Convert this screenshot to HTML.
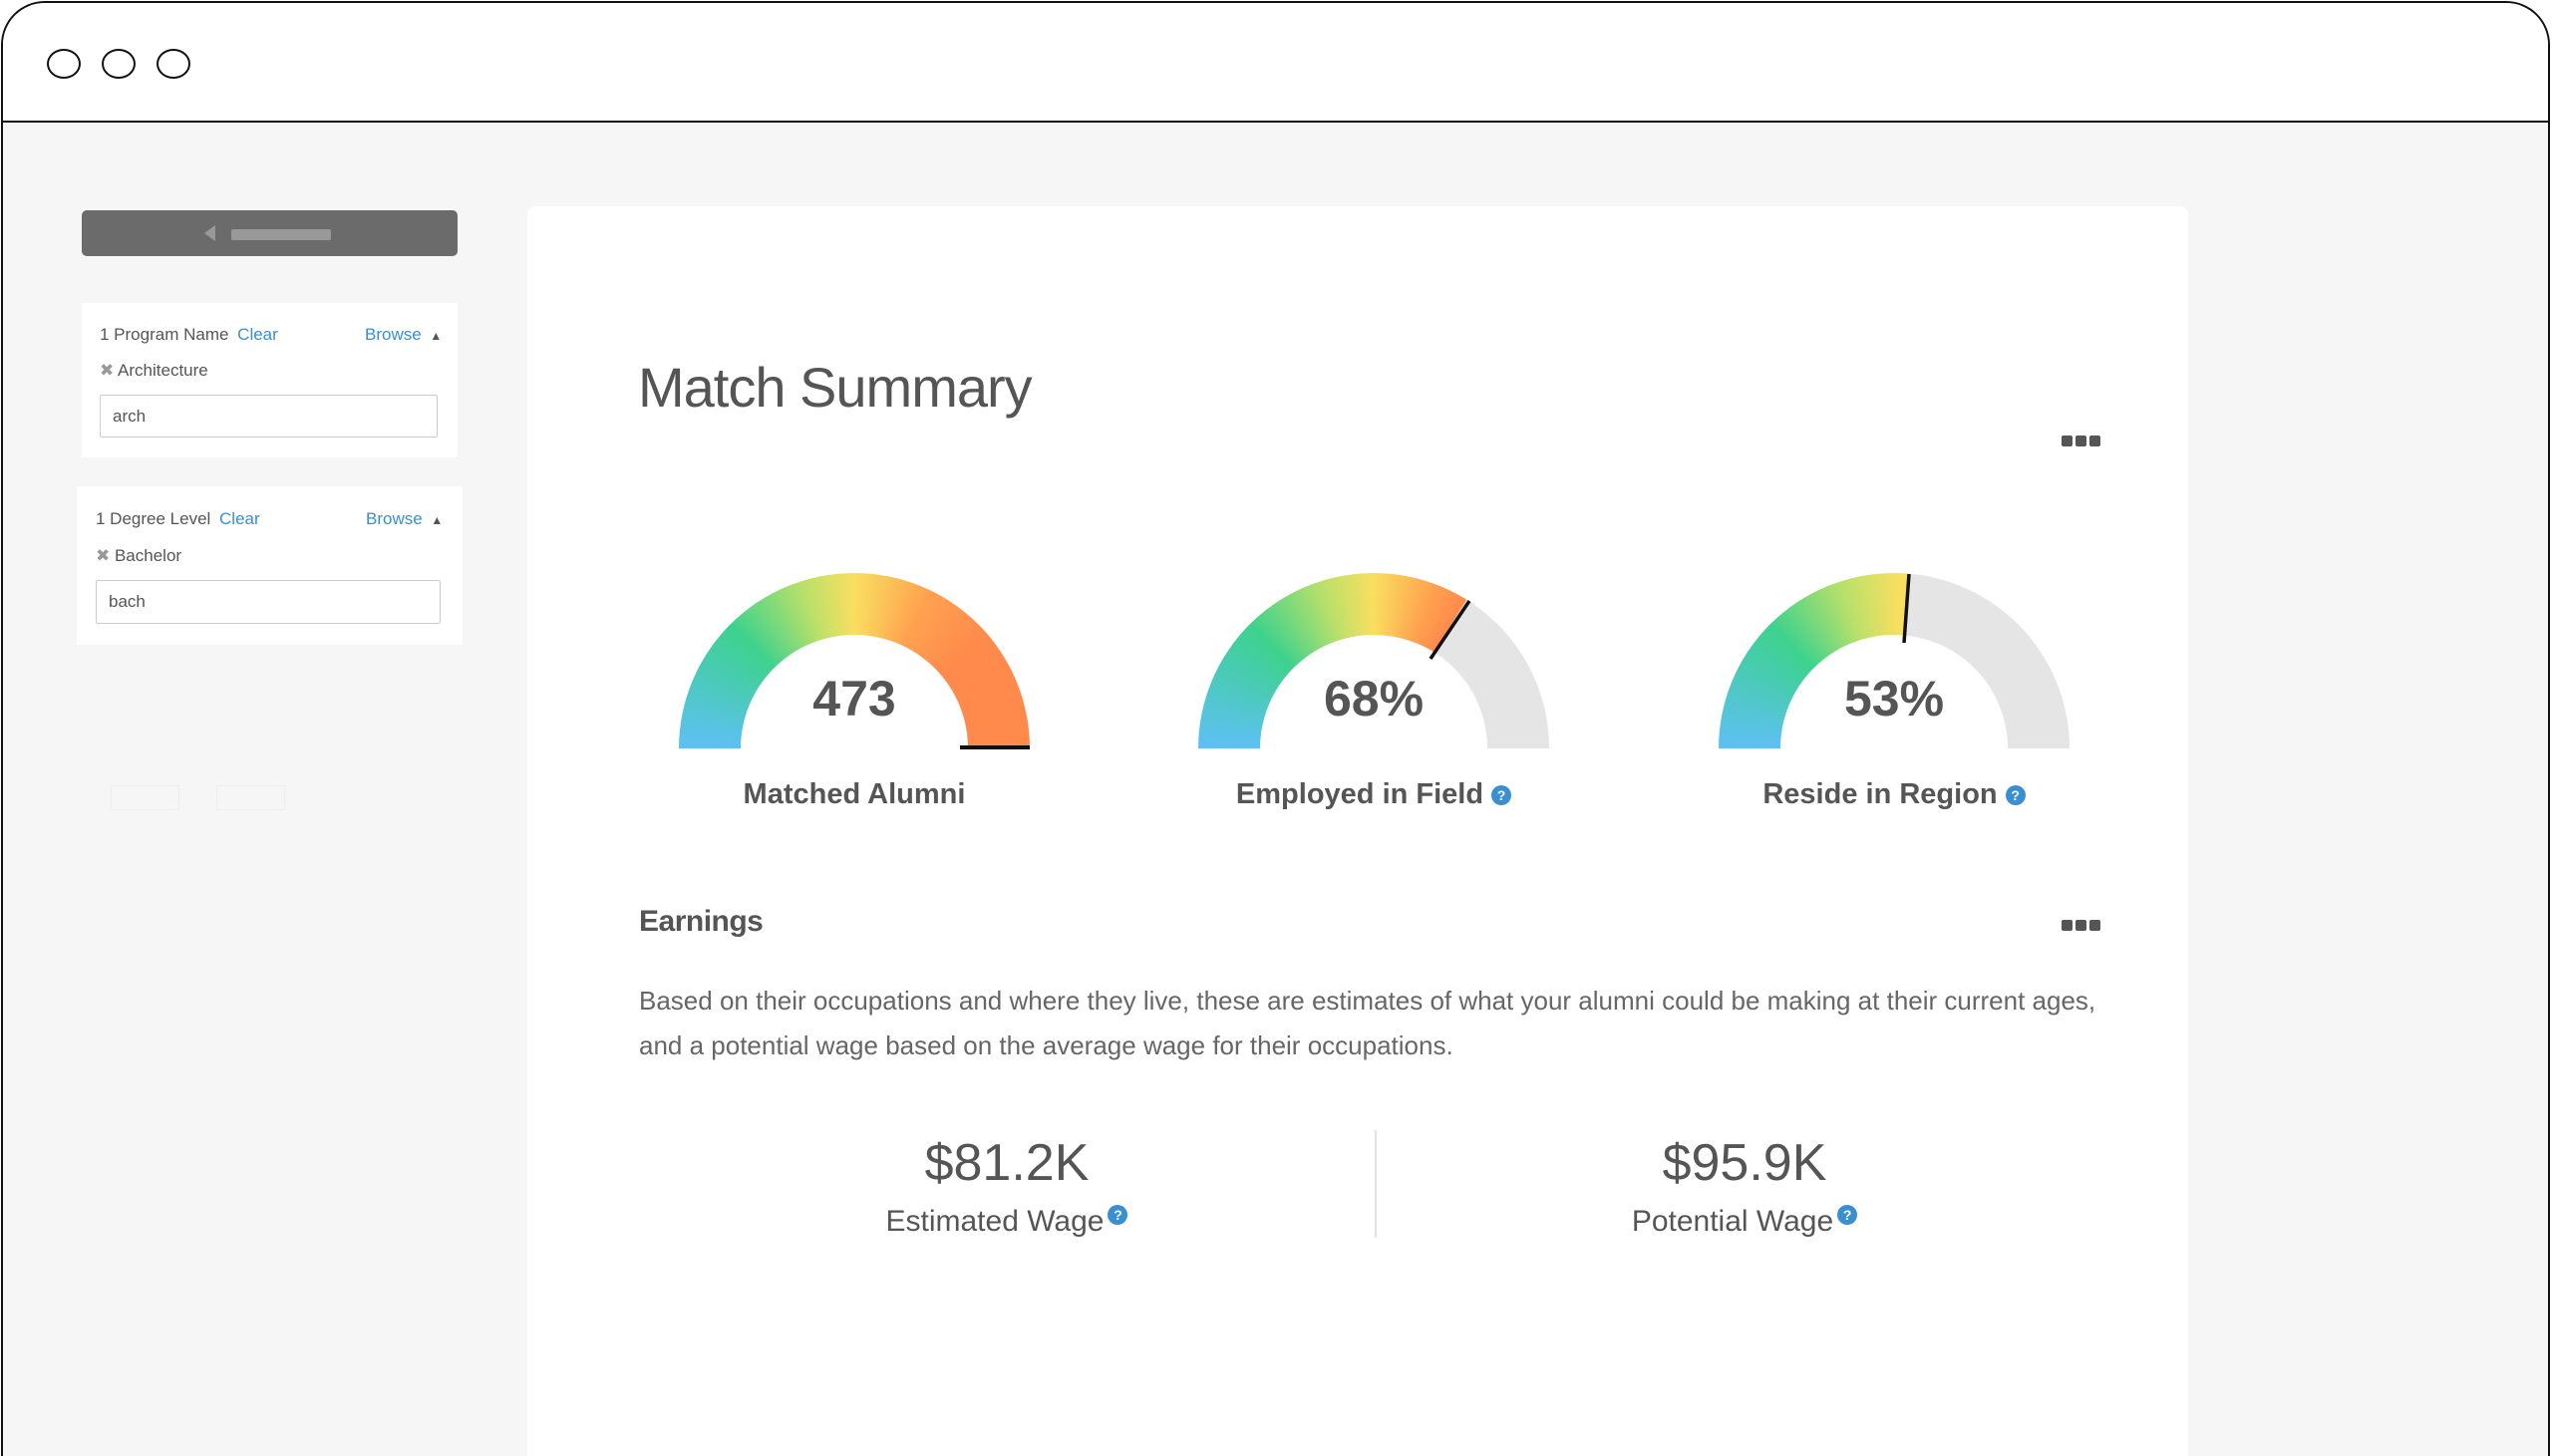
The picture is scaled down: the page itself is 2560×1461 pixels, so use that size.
<!DOCTYPE html>
<html style="overflow:hidden;width:2560px;height:1461px"><head><meta charset="utf-8"><style>
*{margin:0;padding:0;box-sizing:border-box}
body{width:2560px;height:1461px;background:#fff;font-family:"Liberation Sans",sans-serif;color:#555;position:relative;overflow:hidden}
.abs{position:absolute}
.win{left:1px;top:1px;width:2557px;height:1460px;border:2px solid #111;border-bottom:none;border-radius:44px 44px 0 0;background:#f6f6f6;overflow:hidden}
.bar{left:0;top:0;width:100%;height:120px;background:#fff;border-bottom:2px solid #111}
.dot{width:34px;height:30px;border:2.5px solid #111;border-radius:50%;top:46px}
.panel{background:#fff}
.t{font-size:17px;white-space:nowrap}
.blue{color:#3a8fd0}
.inp{border:1.5px solid #ccc;border-radius:2px;background:#fff;font-size:17px;padding-left:12px;display:flex;align-items:center}
.card{left:529px;top:207px;width:1666px;height:1254px;background:#fff;border-radius:8px 8px 0 0}
.g{width:352px;height:176px;border-radius:176px 176px 0 0;overflow:hidden}
.hole{width:228px;height:114px;border-radius:114px 114px 0 0;background:#fff;left:62px;top:62px}
.val{font-size:50px;font-weight:bold;text-align:center;width:300px;color:#555}
.lab{font-size:29px;font-weight:bold;text-align:center;width:500px;color:#555;white-space:nowrap}
.q{display:inline-block;width:20px;height:20px;border-radius:50%;background:#3a8fd0;color:#fff;font-size:14px;font-weight:bold;line-height:20px;text-align:center;vertical-align:middle;margin-left:8px}
.dots span{display:inline-block;width:11px;height:11px;border-radius:2px;background:#555;margin-right:3px}
</style></head><body>
<div class="abs win">
 <div class="abs bar"></div>
 <div class="abs dot" style="left:44px"></div>
 <div class="abs dot" style="left:99px"></div>
 <div class="abs dot" style="left:154px"></div>
</div>
<div class="abs" style="left:82px;top:211px;width:377px;height:46px;background:#6b6b6b;border-radius:5px"></div>
<div class="abs" style="left:205px;top:226px;width:0;height:0;border-top:8px solid transparent;border-bottom:8px solid transparent;border-right:11px solid #999"></div>
<div class="abs" style="left:232px;top:230px;width:100px;height:11px;background:#999;border-radius:2px"></div>

<div class="abs panel" style="left:82px;top:304px;width:377px;height:155px"></div>
<div class="abs t" style="left:100px;top:326px">1 Program Name <span class="blue" style="margin-left:4px">Clear</span></div>
<div class="abs t blue" style="left:366px;top:326px">Browse <span style="color:#555;font-size:12px;margin-left:4px">▲</span></div>
<div class="abs t" style="left:100px;top:362px"><span style="color:#999">✖</span> Architecture</div>
<div class="abs inp" style="left:100px;top:396px;width:339px;height:43px">arch</div>

<div class="abs panel" style="left:77px;top:488px;width:387px;height:159px"></div>
<div class="abs t" style="left:96px;top:511px">1 Degree Level <span class="blue" style="margin-left:4px">Clear</span></div>
<div class="abs t blue" style="left:367px;top:511px">Browse <span style="color:#555;font-size:12px;margin-left:4px">▲</span></div>
<div class="abs t" style="left:96px;top:548px"><span style="color:#999">✖</span> Bachelor</div>
<div class="abs inp" style="left:96px;top:582px;width:346px;height:44px">bach</div>

<div class="abs" style="left:111px;top:788px;width:69px;height:25px;border:1.5px solid #eee"></div>
<div class="abs" style="left:217px;top:788px;width:69px;height:25px;border:1.5px solid #eee"></div>

<div class="abs card"></div>
<div class="abs" style="left:640px;top:356px;font-size:56px;color:#555;white-space:nowrap;letter-spacing:-1px">Match Summary</div>
<div class="abs dots" style="left:2068px;top:435px"><span></span><span></span><span></span></div>

<div class="abs g" style="left:681px;top:575px;background:conic-gradient(from 270deg at 50% 100%,#5ec0f5 0deg,#3dd28e 45deg,#b8e06a 72deg,#f9df60 90deg,#ffa24f 115deg,#ff8a4c 140deg,#ff8a4c 180deg,#fff 180deg)"><div class="abs hole"></div></div>
<div class="abs g" style="left:1202px;top:575px;background:conic-gradient(from 270deg at 50% 100%,#5ec0f5 0deg,#3dd28e 45deg,#b8e06a 72deg,#f9df60 90deg,#ffa24f 110deg,#ff8a4c 122deg,#e5e5e5 122deg,#e5e5e5 180deg,#fff 180deg)"><div class="abs hole"></div></div>
<div class="abs g" style="left:1724px;top:575px;background:conic-gradient(from 270deg at 50% 100%,#5ec0f5 0deg,#3dd28e 45deg,#b8e06a 72deg,#f9df60 92deg,#f9df60 95deg,#e5e5e5 95deg,#e5e5e5 180deg,#fff 180deg)"><div class="abs hole"></div></div>
<svg class="abs" style="left:0;top:0" width="2560" height="1461">
 <line x1="963" y1="750" x2="1033" y2="750" stroke="#111" stroke-width="4"/>
 <line x1="1435" y1="661" x2="1474" y2="603" stroke="#111" stroke-width="3.5"/>
 <line x1="1910" y1="645" x2="1915" y2="576" stroke="#111" stroke-width="3.5"/>
</svg>
<div class="abs val" style="left:707px;top:672px">473</div>
<div class="abs val" style="left:1228px;top:672px">68%</div>
<div class="abs val" style="left:1750px;top:672px">53%</div>
<div class="abs lab" style="left:607px;top:781px">Matched Alumni</div>
<div class="abs lab" style="left:1128px;top:781px">Employed in Field<span class="q">?</span></div>
<div class="abs lab" style="left:1650px;top:781px">Reside in Region<span class="q">?</span></div>

<div class="abs" style="left:641px;top:908px;font-size:30px;font-weight:bold;color:#555;letter-spacing:-0.5px">Earnings</div>
<div class="abs dots" style="left:2068px;top:921px"><span></span><span></span><span></span></div>
<div class="abs" style="left:641px;top:982px;font-size:26px;line-height:45px;color:#666;white-space:nowrap">Based on their occupations and where they live, these are estimates of what your alumni could be making at their current ages,<br>and a potential wage based on the average wage for their occupations.</div>

<div class="abs" style="left:1379px;top:1134px;width:2px;height:108px;background:#e4e4e4"></div>
<div class="abs" style="left:760px;top:1137px;width:500px;text-align:center;font-size:52px;color:#555">$81.2K</div>
<div class="abs" style="left:1500px;top:1137px;width:500px;text-align:center;font-size:52px;color:#555">$95.9K</div>
<div class="abs" style="left:760px;top:1209px;width:500px;text-align:center;font-size:30px;color:#555">Estimated Wage<span class="q" style="vertical-align:top;margin-left:4px">?</span></div>
<div class="abs" style="left:1500px;top:1209px;width:500px;text-align:center;font-size:30px;color:#555">Potential Wage<span class="q" style="vertical-align:top;margin-left:4px">?</span></div>
</body></html>
